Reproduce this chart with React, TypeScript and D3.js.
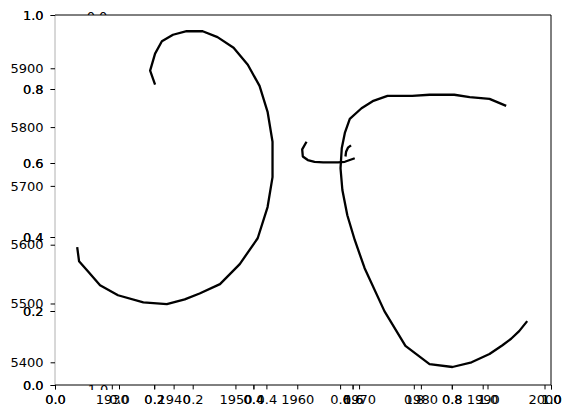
import { useEffect, useRef } from 'react'
import * as d3 from 'd3'

// unit axes drawn on top of each other (0..1 ticks)
const UNIT_TICKS = [0, 0.2, 0.4, 0.6, 0.8, 1.0]

// data axes: year vs value
const YEAR_TICKS = [1930, 1940, 1950, 1960, 1970, 1980, 1990, 2000]
const VALUE_TICKS = [5400, 5500, 5600, 5700, 5800, 5900]

// left loop
const loopYears = [
  1937.0, 1936.2, 1937.0, 1938.1, 1939.9, 1942.1, 1944.7, 1947.1, 1949.7, 1952.0,
  1953.9, 1955.2, 1956.0, 1956.0, 1955.2, 1953.6, 1950.7, 1947.5, 1944.2, 1941.8,
  1938.9, 1935.1, 1931.0, 1928.1, 1926.2, 1924.7, 1924.4,
]
const loopValues = [
  5872, 5896, 5925, 5946, 5957, 5963, 5963, 5953, 5935, 5906,
  5870, 5826, 5775, 5715, 5664, 5611, 5567, 5533, 5517, 5507,
  5499, 5502, 5514, 5531, 5554, 5572, 5596,
]

// right arc
const arcYears = [
  1993.8, 1991.1, 1987.9, 1985.4, 1981.4, 1978.6, 1974.6, 1972.2, 1970.4, 1968.5,
  1967.7, 1967.2, 1967.0, 1967.3, 1968.1, 1969.3, 1970.9, 1974.1, 1977.5, 1981.4,
  1985.1, 1988.2, 1991.1, 1993.2, 1994.6, 1995.9, 1997.2,
]
const arcValues = [
  5836, 5848, 5851, 5855, 5855, 5853, 5853, 5844, 5832, 5814,
  5790, 5764, 5730, 5693, 5650, 5608, 5560, 5487, 5428, 5397,
  5392, 5400, 5414, 5429, 5440, 5453, 5470,
]

// small hook in the middle
const hookYears = [1961.5, 1960.8, 1960.9, 1961.7, 1962.8, 1964.2, 1966.6, 1967.7, 1969.3]
const hookValues = [5775, 5762, 5750, 5744, 5741, 5740, 5740, 5741, 5747]

const tickYears = [1968.7, 1968.2, 1967.9, 1967.8]
const tickValues = [5769, 5765, 5758, 5750]

const W = 576
const H = 418
const FONT = '"DejaVu Sans", sans-serif'
const FS = 13

export default function App() {
  const svgRef = useRef<SVGSVGElement>(null)

  useEffect(() => {
    const svgEl = svgRef.current
    if (!svgEl) return
    const svg = d3.select(svgEl)
    svg.selectAll('*').remove()

    const left = 55, right = 551, top = 15, bottom = 385

    const xA = d3.scaleLinear().domain([0, 1]).range([left, right])
    const yA = d3.scaleLinear().domain([0, 1]).range([bottom, top])
    const xB = d3.scaleLinear().domain([0, 1]).range([119, 487.5])
    const xC = d3.scaleLinear().domain([1920.81, 2001.05]).range([left, right])
    const yC = d3.scaleLinear().domain([5361.4, 5990.6]).range([bottom, top])

    svg.append('rect').attr('width', W).attr('height', H).attr('fill', '#fff')

    // stray labels half hidden behind the axes patch
    const defs = svg.append('defs')
    defs.append('clipPath').attr('id', 'clipTop')
      .append('rect').attr('x', 0).attr('y', 0).attr('width', W).attr('height', top)
    defs.append('clipPath').attr('id', 'clipBot')
      .append('rect').attr('x', 0).attr('y', 380).attr('width', W).attr('height', 10)
    svg.append('text').attr('clip-path', 'url(#clipTop)')
      .attr('x', 97).attr('y', 21).attr('text-anchor', 'middle')
      .attr('font-family', FONT).attr('font-size', FS).attr('fill', '#000')
      .text('0.0')
    svg.append('text').attr('clip-path', 'url(#clipBot)')
      .attr('x', 98).attr('y', 393.5).attr('text-anchor', 'middle')
      .attr('font-family', FONT).attr('font-size', FS).attr('fill', '#000')
      .text('1.0')

    const line = d3.line<[number, number]>().x(d => xC(d[0])).y(d => yC(d[1]))
    const series = [
      [loopYears, loopValues],
      [arcYears, arcValues],
      [hookYears, hookValues],
      [tickYears, tickValues],
    ]
    series.forEach(([xs, ys]) => {
      svg.append('path')
        .datum(xs.map((x, i) => [x, ys[i]] as [number, number]))
        .attr('d', line)
        .attr('fill', 'none').attr('stroke', '#000').attr('stroke-width', 2.3)
        .attr('stroke-linejoin', 'round')
    })

    // spines
    svg.append('line').attr('x1', left).attr('x2', left).attr('y1', top).attr('y2', bottom)
      .attr('stroke', '#b0b0b0').attr('stroke-width', 1)
    svg.append('line').attr('x1', left).attr('x2', right).attr('y1', top).attr('y2', top)
      .attr('stroke', '#000').attr('stroke-width', 1)
    svg.append('line').attr('x1', right).attr('x2', right).attr('y1', top).attr('y2', bottom)
      .attr('stroke', '#000').attr('stroke-width', 1)
    svg.append('line').attr('x1', left).attr('x2', right).attr('y1', bottom).attr('y2', bottom)
      .attr('stroke', '#000').attr('stroke-width', 1)

    const style = (ax: d3.Selection<SVGGElement, unknown, null, undefined>) => {
      ax.select('.domain').remove()
      ax.selectAll('.tick line').attr('stroke', '#000').attr('stroke-width', 1)
      ax.selectAll('.tick text').attr('font-family', FONT).attr('font-size', FS).attr('fill', '#000')
    }

    // bottom axes
    const fmt1 = d3.format('.1f')
    for (let k = 0; k < 2; k++) {
      svg.append('g').attr('transform', `translate(0,${bottom})`)
        .call(d3.axisBottom(xA).tickValues(UNIT_TICKS).tickFormat(v => fmt1(+v)).tickSize(4.4).tickPadding(5))
        .call(style)
    }
    svg.append('g').attr('transform', `translate(0,${bottom})`)
      .call(d3.axisBottom(xB).tickValues(UNIT_TICKS).tickFormat(v => fmt1(+v)).tickSize(4.4).tickPadding(5))
      .call(style)
    svg.append('g').attr('transform', `translate(0,${bottom})`)
      .call(d3.axisBottom(xC).tickValues(YEAR_TICKS).tickFormat(d3.format('d')).tickSize(4.4).tickPadding(5))
      .call(style)

    // left axes
    for (let k = 0; k < 2; k++) {
      svg.append('g').attr('transform', `translate(${left},0)`)
        .call(d3.axisLeft(yA).tickValues(UNIT_TICKS).tickFormat(v => fmt1(+v)).tickSize(4.4).tickPadding(7))
        .call(style)
    }
    svg.append('g').attr('transform', `translate(${left},0)`)
      .call(d3.axisLeft(yC).tickValues(VALUE_TICKS).tickFormat(d3.format('d')).tickSize(4.4).tickPadding(7))
      .call(style)
  }, [])

  return (
    <svg
      ref={svgRef}
      width={W}
      height={H}
      style={{ position: 'fixed', left: 0, top: 0, display: 'block' }}
    />
  )
}
